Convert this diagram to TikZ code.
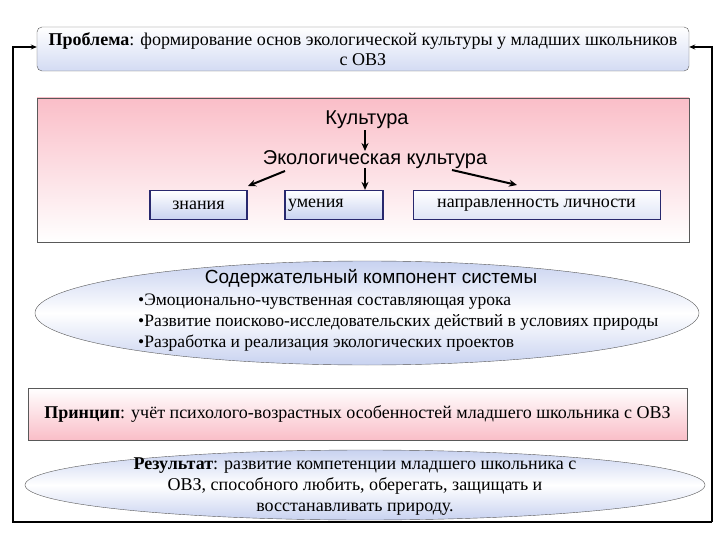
\documentclass[tikz,border=0pt]{standalone}
\usepackage{fontspec}
\setmainfont{Liberation Serif}
\setsansfont{Liberation Sans}
\usetikzlibrary{arrows.meta,shapes.geometric}
\definecolor{navy}{RGB}{40,40,110}
\definecolor{lblue}{RGB}{200,210,240}
\definecolor{lpink}{RGB}{250,190,200}
\tikzset{
 bluebox/.style={draw=navy,line width=1.2pt,top color=white,bottom color=lblue},
 arr/.style={-{Stealth[length=8pt,width=7pt]},line width=2pt},
 ser/.style={font=\fontsize{18}{20}\selectfont},
 sans/.style={font=\sffamily\fontsize{20}{22}\selectfont},
 ellfill/.style={top color=lblue,bottom color=lblue,middle color=white}
}
\begin{document}
\begin{tikzpicture}[x=1pt,y=-1pt]
\useasboundingbox (0,0) rectangle (720,540);
% problem
\node[draw=gray!70!black,rounded corners=5pt,top color=white,bottom color=lblue!80,minimum width=652pt,minimum height=44pt,ser,align=center,inner sep=0pt] (prob) at (363,49) {\textbf{Проблема}: формирование основ экологической культуры у младших школьников\\с ОВЗ};
% pink box
\node[draw=gray!70!black,top color=lpink,bottom color=white,minimum width=652pt,minimum height=144pt,inner sep=0pt] (cult) at (363,170) {};
\node[sans,inner sep=1pt] (k) at (367,120) {Культура};
\node[sans,inner sep=1pt] (ek) at (375,160) {Экологическая культура};
\node[bluebox,ser,minimum width=97pt,minimum height=29pt,inner sep=0pt] (zn) at (198.5,205) {знания};
\node[bluebox,ser,minimum width=98pt,minimum height=29pt,inner sep=0pt,text width=92pt] (um) at (334,205) {умения};
\node[draw=navy,line width=1pt,top color=white,bottom color=lblue!60,ser,minimum width=247pt,minimum height=29pt,inner sep=0pt] (np) at (536.5,205) {направленность личности};
\coordinate (ka) at (k.south-|365,0);
\draw[arr] (ka) -- (365,151);
\coordinate (z1) at (248,186);
\draw[arr] (285,171) -- (z1);
\coordinate (e2) at (365,168);
\draw[arr] (e2) -- (e2|-zn.north);
\coordinate (e3) at (452,170);
\draw[arr] (e3) -- (517,185);
% ellipse
\node[ellipse,draw=gray!70!black,ellfill,minimum width=664pt,minimum height=104pt,inner sep=0pt] (ell) at (367,313) {};
\node[sans,inner sep=0pt,font=\sffamily\fontsize{19}{21}\selectfont] (ct) at (371,278) {Содержательный компонент системы};
\node[align=left,anchor=north west,inner sep=0pt,font=\fontsize{17.5}{21}\selectfont] (bl) at (138,294) {•Эмоционально-чувственная составляющая урока\\•Развитие поисково-исследовательских действий в условиях природы\\•Разработка и реализация экологических проектов};
% principle
\node[draw=gray!70!black,top color=white,bottom color=lpink,minimum width=659pt,minimum height=52pt,inner sep=0pt,ser] (pr) at (357.5,414) {\textbf{Принцип}: учёт психолого-возрастных особенностей младшего школьника с ОВЗ};
% result
\node[ellipse,draw=gray!70!black,ellfill,minimum width=680pt,minimum height=70pt,inner sep=0pt] (res) at (365,485) {};
\node[align=center,inner sep=0pt,font=\fontsize{18}{21}\selectfont] (rt) at (355,487) {\textbf{Результат}: развитие компетенции младшего школьника с\\ОВЗ, способного любить, оберегать, защищать и\\восстанавливать природу.};
% loop
\coordinate (bl1) at (13,522);
\coordinate (br1) at (712,522);
\draw[-{Stealth[length=6pt,width=5pt]},line width=1.8pt] (br1) -- (bl1) -- (bl1|-0,47) -- (prob.west|-0,47);
\draw[-{Stealth[length=6pt,width=5pt]},line width=1.8pt] (br1) -- (712,47) -- (prob.east|-0,47);
\end{tikzpicture}
\end{document}
